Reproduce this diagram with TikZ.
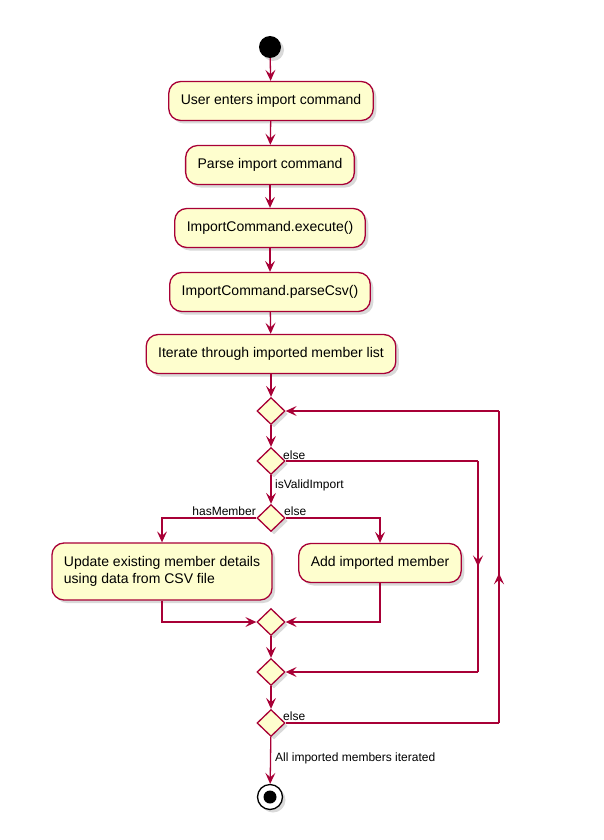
\documentclass[tikz,border=0pt]{standalone}
\usepackage{fontspec}
\setmainfont{Liberation Sans}
\usetikzlibrary{arrows.meta,shapes.geometric,shadows,decorations.markings}

\definecolor{umlborder}{HTML}{A80036}
\definecolor{umlfill}{HTML}{FEFECE}

\tikzset{
  shade/.style={drop shadow={shadow xshift=3pt,shadow yshift=-3pt,opacity=0.25,fill=black!60}},
  action/.style={rectangle,rounded corners=12pt,draw=umlborder,fill=umlfill,line width=1.3pt,
    minimum height=39pt,inner xsep=12pt,font=\fontsize{14}{17}\selectfont,shade},
  decision/.style={diamond,draw=umlborder,fill=umlfill,line width=1.3pt,inner sep=0pt,
    minimum width=28pt,minimum height=27pt,shade},
  tip/.style={-{Stealth[length=11pt,width=10pt,inset=4.5pt]}},
  flow/.style={draw=umlborder,line width=1.3pt},
  midup/.style={postaction={decorate},decoration={markings,
    mark=at position #1 with {\arrow{Stealth[length=11pt,width=10pt,inset=4.5pt]}}}},
  guard/.style={font=\fontsize{12}{14}\selectfont,inner sep=1pt},
}

\begin{document}
\begin{tikzpicture}[x=1pt,y=-1pt]
  \useasboundingbox (0,0) rectangle (603,840);

  % start and actions
  \node[circle,fill=black,minimum size=22pt,inner sep=0pt,shade] (start) at (270,47) {};
  \node[action] (b1) at (271,101) {User enters import command};
  \node[action] (b2) at (270,165) {Parse import command};
  \node[action] (b3) at (270,228) {ImportCommand.execute()};
  \node[action] (b4) at (270,292) {ImportCommand.parseCsv()};
  \node[action] (b5) at (271,354) {Iterate through imported member list};

  % loop and branches
  \node[decision] (d1) at (271,411) {};
  \node[decision] (d2) at (271,461) {};
  \node[decision] (d3) at (271,518) {};
  \node[action,align=left,minimum height=57pt] (b6) at (162,571.5)
    {Update existing member details\\using data from CSV file};
  \node[action] (b7) at (380,563) {Add imported member};
  \node[decision] (d4) at (271,622) {};
  \node[decision] (d5) at (271,672) {};
  \node[decision] (d6) at (271,723) {};

  % end
  \node[circle,draw=black,line width=1.3pt,fill=white,minimum size=25pt,inner sep=0pt,shade] (stop) at (270,797) {};
  \node[circle,fill=black,minimum size=13pt,inner sep=0pt] (stopdot) at (stop) {};

  % routing points on the right
  \coordinate (skipTop) at (478,461);
  \coordinate (skipBot) at (478,672);
  \coordinate (loopBot) at (499,723);
  \coordinate (loopTop) at (499,411);

  % straight flow
  \draw[flow,tip] (start) -- (b1);
  \draw[flow,tip] (b1) -- (b2);
  \draw[flow,tip] (b2) -- (b3);
  \draw[flow,tip] (b3) -- (b4);
  \draw[flow,tip] (b4) -- (b5);
  \draw[flow,tip] (b5) -- (d1);
  \draw[flow,tip] (d1) -- (d2);
  \draw[flow,tip] (d2) -- (d3);
  \draw[flow,tip] (d3.west) -| (b6.north);
  \draw[flow,tip] (d3.east) -| (b7.north);
  \draw[flow,tip] (b6.south) |- (d4.west);
  \draw[flow,tip] (b7.south) |- (d4.east);
  \draw[flow,tip] (d4) -- (d5);
  \draw[flow,tip] (d5) -- (d6);
  \draw[flow,tip] (d6) -- (stop);

  % invalid import skips to the merge
  \draw[flow] (d2.east) -- (skipTop);
  \draw[flow,midup=0.5] (skipTop) -- (skipBot);
  \draw[flow,tip] (skipBot) -- (d5.east);

  % loop back to the start of the iteration
  \draw[flow] (d6.east) -- (loopBot);
  \draw[flow,midup=0.48] (loopBot) -- (loopTop);
  \draw[flow,tip] (loopTop) -- (d1.east);

  % guards
  \node[guard,anchor=base west] (g1) at (282,459) {else};
  \node[guard,anchor=west] (g2) at (274,485) {isValidImport};
  \node[guard,anchor=base east] (g3) at (257,515) {hasMember};
  \node[guard,anchor=base west] (g4) at (283,515) {else};
  \node[guard,anchor=base west] (g5) at (282,720) {else};
  \node[guard,anchor=west] (g6) at (274,758) {All imported members iterated};
\end{tikzpicture}
\end{document}
